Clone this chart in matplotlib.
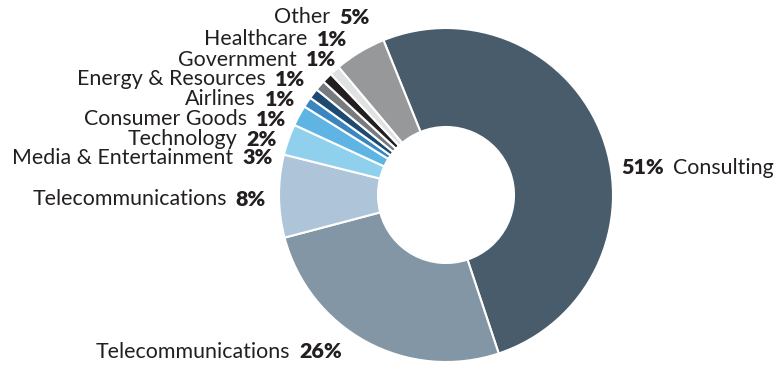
import matplotlib.pyplot as plt

# Data
sectors = ['Consulting', 'Telecommunications', 'Telecommunications', 'Media & Entertainment',
           'Technology', 'Consumer Goods', 'Airlines', 'Energy & Resources',
           'Government', 'Healthcare', 'Other']
shares = [51, 26, 8, 3, 2, 1, 1, 1, 1, 1, 5]
colors = ['#485c6c', '#8396a5', '#aec5d9', '#8fd0ec', '#5eb4e3', '#3b86c0',
          '#1c4a70', '#777b80', '#231f20', '#e0e1e3', '#97989a']

# label anchor (x, y in pixels from top-left) and side
label_pos = [(621, 168, 'left'), (342, 352, 'right'), (266, 199, 'right'),
             (273, 158, 'right'), (277, 139, 'right'), (286, 119, 'right'),
             (295, 99, 'right'), (305, 79, 'right'), (336, 60, 'right'),
             (347, 39, 'right'), (370, 17, 'right')]

W, H = 776, 365
fig = plt.figure(figsize=(W / 100, H / 100), dpi=100)
ax = fig.add_axes([0, 0, 1, 1])
ax.set_xlim(0, W)
ax.set_ylim(0, H)
ax.axis('off')

ax.pie(shares, colors=colors, startangle=112, counterclock=False,
       center=(446, H - 195), radius=167,
       wedgeprops=dict(width=99, edgecolor='white', linewidth=1.5))
ax.set_xlim(0, W)
ax.set_ylim(0, H)
ax.set_aspect('equal')

fs = 15.4
gap = 6.5
for name, pct, (x, y, side) in zip(sectors, shares, label_pos):
    y = H - y
    if side == 'right':
        p = ax.text(x, y, f'{pct}%', ha='right', va='center', fontsize=fs,
                    family='Lato', fontweight='heavy', color='#231f20')
        ax.annotate(name, xy=(0, 0.5), xycoords=p, xytext=(-gap, 0),
                    textcoords='offset points', ha='right', va='center',
                    fontsize=fs, family='Lato', color='#231f20')
    else:
        p = ax.text(x, y, f'{pct}%', ha='left', va='center', fontsize=fs,
                    family='Lato', fontweight='heavy', color='#231f20')
        ax.annotate(name, xy=(1, 0.5), xycoords=p, xytext=(gap, 0),
                    textcoords='offset points', ha='left', va='center',
                    fontsize=fs, family='Lato', color='#231f20')

fig.savefig('out.png', dpi=100)
